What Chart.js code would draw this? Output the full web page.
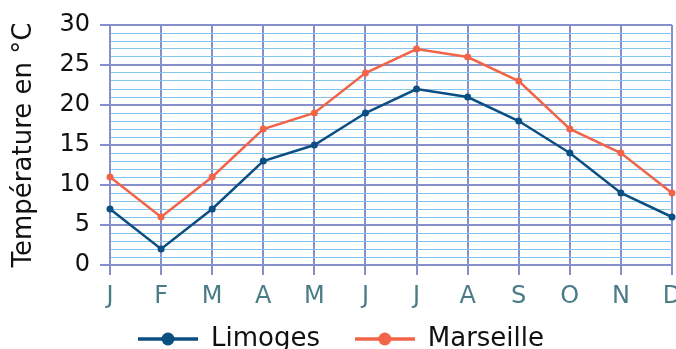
<!DOCTYPE html>
<html><head><meta charset="utf-8">
<script src="https://cdn.jsdelivr.net/npm/chart.js@4"></script>
<style>html,body{margin:0;padding:0;overflow:hidden;background:#fff}canvas{display:block}</style>
</head><body>
<canvas id="c" width="681" height="362"></canvas>
<script>
const months = ['J','F','M','A','M','J','J','A','S','O','N','D'];
const limoges = [7,2,7,13,15,19,22,21,18,14,9,6];
const marseille = [11,6,11,17,19,24,27,26,23,17,14,9];
const seriesNames = ['Limoges','Marseille'];
const yTickLabels = [0,5,10,15,20,25,30];
const yTitle = 'Température en °C';

const COL_LIM = '#0b4f82';
const COL_MAR = '#f26447';
const MAJOR = '#868ecb';
const MINOR = '#84c5ef';
const XLAB = '#4b7c86';
const FONT = "'DejaVu Sans', sans-serif";

function legendImage(color) {
  const c = document.createElement('canvas');
  c.width = 60; c.height = 16;
  const g = c.getContext('2d');
  g.strokeStyle = color; g.lineWidth = 3.3;
  g.beginPath(); g.moveTo(0, 8); g.lineTo(60, 8); g.stroke();
  g.fillStyle = color;
  g.beginPath(); g.arc(30, 8, 6.5, 0, Math.PI * 2); g.fill();
  return c;
}
const legendImgs = [legendImage(COL_LIM), legendImage(COL_MAR)];

function ds(label, data, color) {
  return {
    label, data,
    borderColor: color, backgroundColor: color,
    borderWidth: 2.5, tension: 0,
    pointRadius: 3.5, pointBackgroundColor: color, pointBorderWidth: 0,
    pointHoverRadius: 3.5, clip: false
  };
}

new Chart(document.getElementById('c'), {
  type: 'line',
  data: {
    labels: months,
    datasets: [ds(seriesNames[0], limoges, COL_LIM), ds(seriesNames[1], marseille, COL_MAR)]
  },
  options: {
    responsive: false,
    animation: false,
    events: [],
    layout: { padding: { top: 25, left: 10, right: 9, bottom: 0 } },
    plugins: {
      tooltip: { enabled: false },
      legend: {
        position: 'bottom',
        labels: {
          usePointStyle: true,
          pointStyleWidth: 60,
          padding: 10,
          color: '#111',
          font: { family: FONT, size: 26 },
          generateLabels(chart) {
            const items = Chart.defaults.plugins.legend.labels.generateLabels(chart);
            items.forEach((it, i) => {
              it.pointStyle = legendImgs[i];
              if (i === 0) it.text = it.text + '   ';
            });
            return items;
          }
        }
      }
    },
    scales: {
      x: {
        offset: false,
        grid: { color: MAJOR, lineWidth: 2, tickLength: 10, tickColor: MAJOR, tickWidth: 2, offset: false },
        border: { color: MAJOR, width: 2 },
        ticks: { color: XLAB, font: { family: FONT, size: 24 }, padding: 7, autoSkip: false, maxRotation: 0 },
        afterFit(s) { s.height = 51; s.paddingLeft = 0; s.paddingRight = 0; }
      },
      y: {
        min: 0, max: 30,
        grid: {
          color: c => (c.tick && c.tick.value % 5 === 0) ? MAJOR : MINOR,
          lineWidth: c => (c.tick && c.tick.value % 5 === 0) ? 2 : 1,
          tickColor: c => (c.tick && c.tick.value % 5 === 0) ? MAJOR : 'rgba(0,0,0,0)',
          tickLength: 10, tickWidth: 2
        },
        border: { color: MAJOR, width: 2 },
        ticks: {
          stepSize: 1, autoSkip: false, padding: 10, color: '#111',
          font: { family: FONT, size: 24 },
          callback: v => yTickLabels.includes(v) ? String(v) : ''
        },
        title: { display: true, text: yTitle, color: '#111', font: { family: FONT, size: 26 }, padding: { top: -1, bottom: 0 } },
        afterFit(s) { s.width = 100; s.paddingTop = 0; s.paddingBottom = 0; }
      }
    }
  }
});
</script>
</body></html>
